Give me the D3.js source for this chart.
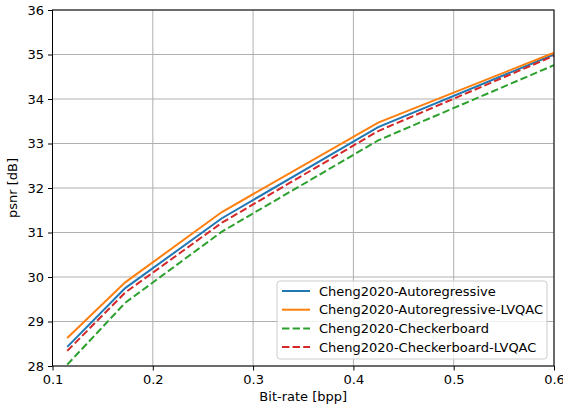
<!DOCTYPE html>
<html>
  <head>
    <title></title>
    <style type="text/css">
        html, body{
            padding: 0px;
            margin: 0px;
            background: #ffffff;
        }
        svg text{
            font-family: "DejaVu Sans", sans-serif;
            fill: #000;
        }
    </style>
  </head>
  <body>
    <div id="vis"></div>
    <script src="https://cdnjs.cloudflare.com/ajax/libs/d3/7.8.5/d3.min.js"></script>
    <script type="text/javascript">

        // values
        var seriesNames = ["Cheng2020-Autoregressive", "Cheng2020-Autoregressive-LVQAC",
                           "Cheng2020-Checkerboard", "Cheng2020-Checkerboard-LVQAC"]
        var seriesColors = ["#1f77b4", "#ff7f0e", "#2ca02c", "#d62728"]
        var seriesDashed = [false, false, true, true]

        var bpp = [0.1147, 0.1725, 0.2689, 0.4247, 0.6]
        var autoregressive = [28.43, 29.75, 31.32, 33.37, 35.00]
        var autoregressiveLvqac = [28.63, 29.88, 31.46, 33.47, 35.04]
        var checkerboard = [28.03, 29.42, 31.02, 33.07, 34.76]
        var checkerboardLvqac = [28.34, 29.65, 31.22, 33.28, 34.97]
        var allSeries = [autoregressive, autoregressiveLvqac, checkerboard, checkerboardLvqac]

        var xTicks = [0.1, 0.2, 0.3, 0.4, 0.5, 0.6]
        var yTicks = [28, 29, 30, 31, 32, 33, 34, 35, 36]

        var width = 563, height = 410
        var margin = {left: 52.5, right: 9, top: 10, bottom: 44}
        var fontSize = "13px"

        var svg = d3.select("#vis").append("svg")
            .attr("width", width)
            .attr("height", height)

        var x = d3.scaleLinear().domain([0.1, 0.6]).range([margin.left, width - margin.right])
        var y = d3.scaleLinear().domain([28, 36]).range([height - margin.bottom, margin.top])

        // grid
        svg.append("g").selectAll("line.gx")
            .data(xTicks).enter().append("line")
            .attr("x1", function(d){ return x(d) }).attr("x2", function(d){ return x(d) })
            .attr("y1", y(28)).attr("y2", y(36))
            .attr("stroke", "#b0b0b0").attr("stroke-width", 1)
        svg.append("g").selectAll("line.gy")
            .data(yTicks).enter().append("line")
            .attr("y1", function(d){ return y(d) }).attr("y2", function(d){ return y(d) })
            .attr("x1", x(0.1)).attr("x2", x(0.6))
            .attr("stroke", "#b0b0b0").attr("stroke-width", 1)

        // lines
        var line = d3.line()
            .x(function(d, i){ return x(bpp[i]) })
            .y(function(d){ return y(d) })

        svg.append("g").selectAll("path.series")
            .data(allSeries).enter().append("path")
            .attr("d", line)
            .attr("fill", "none")
            .attr("stroke", function(d, i){ return seriesColors[i] })
            .attr("stroke-width", 2)
            .attr("stroke-dasharray", function(d, i){ return seriesDashed[i] ? "7.4,3.2" : null })

        // axes
        var xAxis = d3.axisBottom(x).tickValues(xTicks).tickFormat(d3.format(".1f")).tickSize(4.5).tickPadding(4)
        var yAxis = d3.axisLeft(y).tickValues(yTicks).tickFormat(d3.format("d")).tickSize(4.5).tickPadding(4)

        var gx = svg.append("g").attr("transform", "translate(0," + y(28) + ")").call(xAxis)
        var gy = svg.append("g").attr("transform", "translate(" + x(0.1) + ",0)").call(yAxis)
        ;[gx, gy].forEach(function(g){
            g.select(".domain").remove()
            g.selectAll("text").style("font-size", fontSize).attr("fill", "#000")
            g.selectAll("line").attr("stroke", "#000").attr("stroke-width", 1)
        })

        // frame
        svg.append("rect")
            .attr("x", x(0.1)).attr("y", y(36))
            .attr("width", x(0.6) - x(0.1)).attr("height", y(28) - y(36))
            .attr("fill", "none").attr("stroke", "#000").attr("stroke-width", 1)

        // axis titles
        svg.append("text")
            .attr("x", (x(0.1) + x(0.6)) / 2).attr("y", 401)
            .attr("text-anchor", "middle").style("font-size", fontSize)
            .text("Bit-rate [bpp]")
        svg.append("text")
            .attr("transform", "translate(17," + (y(28) + y(36)) / 2 + ") rotate(-90)")
            .attr("text-anchor", "middle").style("font-size", fontSize)
            .text("psnr [dB]")

        // legend
        var legend = svg.append("g").attr("transform", "translate(277,281)")
        legend.append("rect")
            .attr("width", 270).attr("height", 78).attr("rx", 3)
            .attr("fill", "#fff").attr("fill-opacity", 0.8)
            .attr("stroke", "#cccccc").attr("stroke-width", 1)
        var rows = legend.selectAll("g.row").data(seriesNames).enter().append("g")
            .attr("transform", function(d, i){ return "translate(0," + (10 + i * 18.7) + ")" })
        rows.append("line")
            .attr("x1", 5).attr("x2", 33).attr("y1", 0).attr("y2", 0)
            .attr("stroke", function(d, i){ return seriesColors[i] })
            .attr("stroke-width", 2)
            .attr("stroke-dasharray", function(d, i){ return seriesDashed[i] ? "7.4,3.2" : null })
        rows.append("text")
            .attr("x", 42).attr("y", 0).attr("dy", "0.35em")
            .style("font-size", fontSize)
            .text(function(d){ return d })

    </script>
  </body>
</html>
